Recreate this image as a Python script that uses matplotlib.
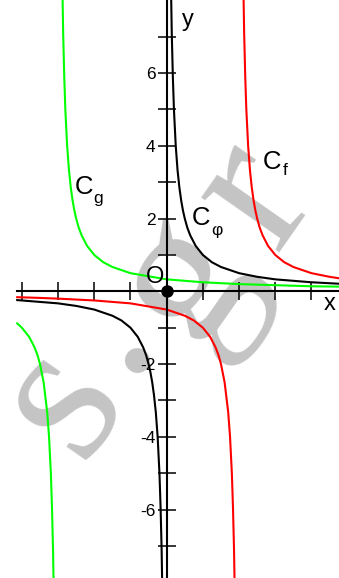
import matplotlib
matplotlib.use("Agg")
import matplotlib.pyplot as plt
from matplotlib.ticker import FixedLocator, FixedFormatter

plt.rcParams['font.family'] = ['Liberation Sans', 'DejaVu Sans']

# C_f, branch left of the asymptote x = 2 and branch right of it
f_left_x = [-4.13, -3.5, -3.0, -2.0, -1.0, 0.0, 0.5, 0.75, 1.0, 1.2, 1.35, 1.43, 1.5, 1.6, 1.7, 1.75, 1.8, 1.83, 1.86, 1.875]
f_left_y = [-0.16, -0.18, -0.2, -0.25, -0.33, -0.5, -0.67, -0.8, -1.0, -1.25, -1.54, -1.75, -2.0, -2.5, -3.33, -4.0, -5.0, -5.9, -7.1, -8.0]
f_right_x = [2.124, 2.14, 2.17, 2.2, 2.25, 2.3, 2.35, 2.4, 2.45, 2.5, 2.57, 2.65, 2.8, 3.0, 3.25, 3.5, 4.0, 4.5, 4.76]
f_right_y = [8.05, 7.1, 5.9, 5.0, 4.0, 3.33, 2.86, 2.5, 2.22, 2.0, 1.75, 1.54, 1.25, 1.0, 0.8, 0.67, 0.5, 0.4, 0.36]

# C_g, asymptote x = -3
g_left_x = [-4.13, -4.0, -3.8, -3.65, -3.57, -3.5, -3.4, -3.3, -3.25, -3.2, -3.17, -3.14, -3.125]
g_left_y = [-0.88, -1.0, -1.25, -1.54, -1.75, -2.0, -2.5, -3.33, -4.0, -5.0, -5.9, -7.1, -8.0]
g_right_x = [-2.876, -2.86, -2.83, -2.8, -2.75, -2.7, -2.65, -2.6, -2.55, -2.5, -2.43, -2.35, -2.2, -2.0, -1.75, -1.5, -1.0, 0.0, 1.0, 2.0, 3.0, 4.0, 4.76]
g_right_y = [8.05, 7.1, 5.9, 5.0, 4.0, 3.33, 2.86, 2.5, 2.22, 2.0, 1.75, 1.54, 1.25, 1.0, 0.8, 0.67, 0.5, 0.33, 0.25, 0.2, 0.17, 0.14, 0.13]

# C_phi, asymptote x = 0
phi_left_x = [-4.13, -3.5, -3.0, -2.5, -2.0, -1.5, -1.25, -1.0, -0.8, -0.65, -0.57, -0.5, -0.45, -0.4, -0.35, -0.3, -0.25, -0.2, -0.17, -0.14, -0.125]
phi_left_y = [-0.24, -0.29, -0.33, -0.4, -0.5, -0.67, -0.8, -1.0, -1.25, -1.54, -1.75, -2.0, -2.22, -2.5, -2.86, -3.33, -4.0, -5.0, -5.9, -7.1, -8.0]
phi_right_x = [0.124, 0.14, 0.17, 0.2, 0.25, 0.3, 0.35, 0.4, 0.45, 0.5, 0.57, 0.65, 0.8, 1.0, 1.25, 1.5, 2.0, 2.5, 3.0, 3.5, 4.0, 4.76]
phi_right_y = [8.05, 7.1, 5.9, 5.0, 4.0, 3.33, 2.86, 2.5, 2.22, 2.0, 1.75, 1.54, 1.25, 1.0, 0.8, 0.67, 0.5, 0.4, 0.33, 0.29, 0.25, 0.21]

x_ticks = [-4, -3, -2, -1, 1, 2, 3, 4]
y_ticks = [-7, -6, -5, -4, -3, -2, -1, 1, 2, 3, 4, 5, 6, 7]
y_tick_labels = ['', '-6', '', '-4', '', '-2', '', '', '2', '', '4', '', '6', '']

fig = plt.figure(figsize=(3.39, 5.78), dpi=100)
ax = fig.add_axes([0, 0, 1, 1])
ax.set_xlim(-4.605, 4.76)
ax.set_ylim(-7.88, 8.01)

# faint watermark letters behind everything
wm = dict(family='Liberation Serif', fontsize=150, color='#c4c4c4', rotation=55,
          ha='center', va='center', rotation_mode='anchor', zorder=0)
ax.text(-2.89, -2.98, 's', **wm)
ax.text(-1.87, -0.95, '.', **wm)
ax.text(0.51, 0.37, 'g', **wm)
ax.text(2.44, 2.65, 'r', **wm)

lw = 1.5
ax.plot(f_left_x, f_left_y, color='#ff0000', lw=lw, zorder=2)
ax.plot(f_right_x, f_right_y, color='#ff0000', lw=lw, zorder=2)
ax.plot(g_left_x, g_left_y, color='#00ff00', lw=lw, zorder=2)
ax.plot(g_right_x, g_right_y, color='#00ff00', lw=lw, zorder=2)
ax.plot(phi_left_x, phi_left_y, color='black', lw=lw, zorder=2)
ax.plot(phi_right_x, phi_right_y, color='black', lw=lw, zorder=2)

# axes through the origin
for side in ['top', 'right']:
    ax.spines[side].set_visible(False)
ax.spines['left'].set_position(('data', 0))
ax.spines['bottom'].set_position(('data', 0))
ax.spines['bottom'].set_bounds(-4.13, 4.76)
for side in ['left', 'bottom']:
    ax.spines[side].set_linewidth(1.5)
    ax.spines[side].set_zorder(3)

ax.xaxis.set_major_locator(FixedLocator(x_ticks))
ax.yaxis.set_major_locator(FixedLocator(y_ticks))
ax.yaxis.set_major_formatter(FixedFormatter(y_tick_labels))
ax.tick_params(direction='inout', length=13, width=1.1, labelsize=12.5, pad=1.5)
ax.tick_params(axis='x', labelbottom=False)

ax.plot([0], [0], 'o', color='black', ms=8, zorder=5, clip_on=False)

ax.text(-0.32, 0.40, 'O', fontsize=17, ha='center', va='center')
ax.text(0.59, 7.46, 'y', fontsize=17, ha='center', va='center')
ax.text(4.51, -0.35, 'x', fontsize=17, ha='center', va='center')

ax.text(-2.28, 2.86, 'C', fontsize=18.5, ha='center', va='center')
ax.text(-1.90, 2.54, 'g', fontsize=12.5, ha='center', va='center')
ax.text(0.96, 2.03, 'C', fontsize=18.5, ha='center', va='center')
ax.text(1.40, 1.66, 'φ', fontsize=12.5, ha='center', va='center')
ax.text(2.91, 3.56, 'C', fontsize=18.5, ha='center', va='center')
ax.text(3.27, 3.31, 'f', fontsize=12.5, ha='center', va='center')

fig.savefig('out.png', dpi=100)
